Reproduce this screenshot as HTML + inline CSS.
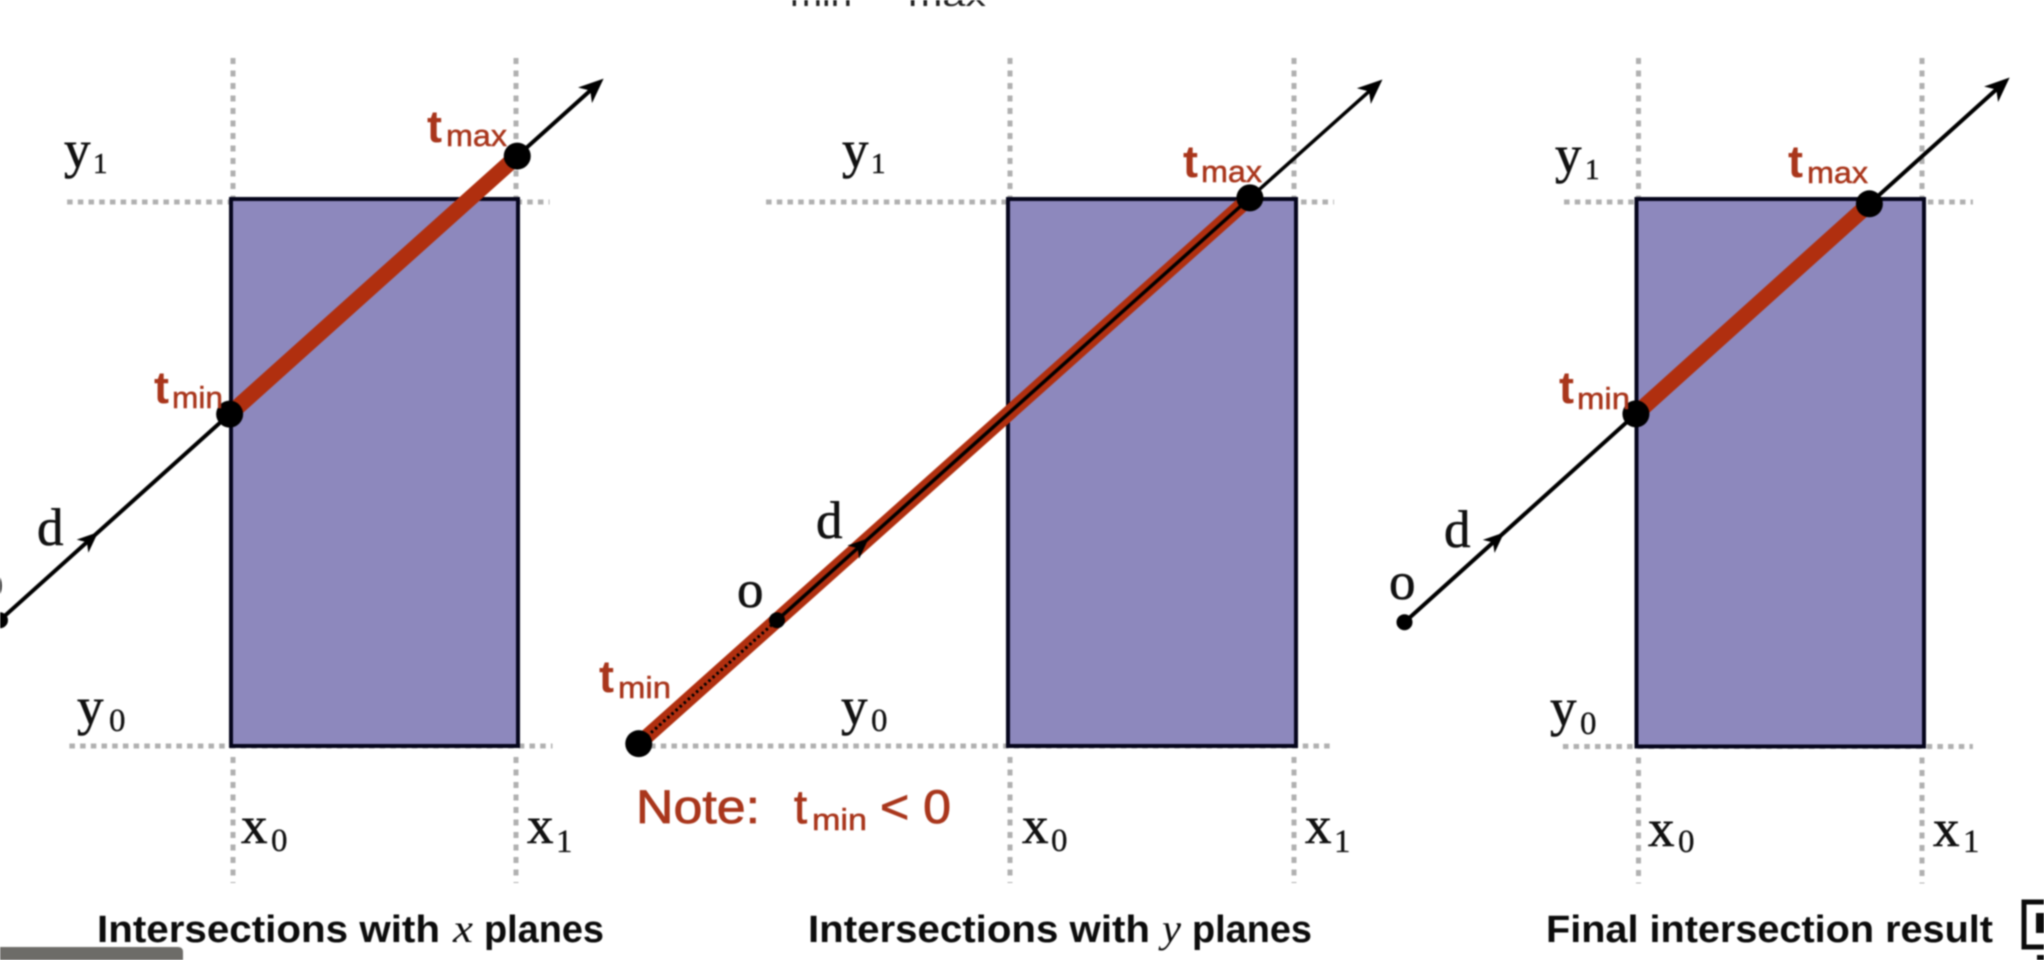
<!DOCTYPE html>
<html lang="en">
<head>
<meta charset="utf-8">
<title>Ray and box intersection</title>
<style>
  html, body { margin: 0; padding: 0; background: #fff; }
  body { width: 2044px; height: 960px; overflow: hidden; }
  svg { display: block; filter: blur(0.8px); }
  .serif { font-family: "Liberation Serif", serif; font-size: 53px; fill: #111; stroke: #111; stroke-width: 0.6px; }
  .serif-sub { font-family: "Liberation Serif", serif; font-size: 33px; fill: #111; stroke: #111; stroke-width: 0.3px; }
  .serif-sub-small { font-family: "Liberation Serif", serif; font-size: 29px; fill: #111; stroke: #111; stroke-width: 0.5px; }
  .red-t { font-family: "Liberation Sans", sans-serif; font-size: 45px; font-weight: 700; fill: #a9361c; }
  .red-sub { font-family: "Liberation Sans", sans-serif; font-size: 31px; fill: #a9361c; stroke: #a9361c; stroke-width: 0.5px; }
  .note { font-family: "Liberation Sans", sans-serif; font-size: 47px; fill: #a9361c; stroke: #a9361c; stroke-width: 0.8px; }
  .title { font-family: "Liberation Sans", sans-serif; font-size: 38px; font-weight: 700; fill: #0c0c0c; }
  .title-var { font-family: "Liberation Serif", serif; font-size: 40px; font-style: italic; fill: #0c0c0c; }
  .clipped { font-family: "Liberation Sans", sans-serif; font-size: 44px; fill: #333; }
  .clipped-sub { font-family: "Liberation Sans", sans-serif; font-size: 30px; fill: #222; }
</style>
</head>
<body>
<svg id="diagram" xmlns="http://www.w3.org/2000/svg" width="2044" height="960" viewBox="0 0 2044 960">
  <rect x="0" y="0" width="2044" height="960" fill="#ffffff"/>
  <g id="marks"></g>

  <g>
    <text class="clipped" x="76" y="-1" textLength="690" lengthAdjust="spacingAndGlyphs" opacity="0.5">and take intersection of</text>
    <text class="clipped-sub" x="790" y="6" textLength="62" lengthAdjust="spacingAndGlyphs">min</text>
    <text class="clipped-sub" x="908" y="6" textLength="78" lengthAdjust="spacingAndGlyphs">max</text>
    <text class="clipped" x="1010" y="-1" textLength="230" lengthAdjust="spacingAndGlyphs" opacity="0.5">intervals</text>
  </g>

  <!-- Panel 1 labels -->
  <g>
    <g><text class="serif" x="64" y="167">y</text><text class="serif-sub-small" x="93" y="173">1</text></g>
    <g><text class="serif" x="77" y="724">y</text><text class="serif-sub" x="109" y="731">0</text></g>
    <g><text class="serif" x="241" y="843">x</text><text class="serif-sub" x="271" y="851">0</text></g>
    <g><text class="serif" x="527" y="843">x</text><text class="serif-sub" x="556" y="852">1</text></g>
    <text class="serif" x="37" y="545">d</text>
    <text class="serif" x="-23" y="598">o</text>
    <g><text class="red-t" x="427" y="142">t</text><text class="red-sub" x="446" y="146" textLength="61" lengthAdjust="spacingAndGlyphs">max</text></g>
    <g><text class="red-t" x="154" y="403">t</text><text class="red-sub" x="172" y="408" textLength="51" lengthAdjust="spacingAndGlyphs">min</text></g>
    <g>
      <text class="title" x="97" y="942" textLength="343" lengthAdjust="spacingAndGlyphs">Intersections with</text>
      <text class="title-var" x="453" y="942" textLength="20" lengthAdjust="spacingAndGlyphs">x</text>
      <text class="title" x="484" y="942" textLength="120" lengthAdjust="spacingAndGlyphs">planes</text>
    </g>
  </g>

  <!-- Panel 2 labels -->
  <g>
    <g><text class="serif" x="842" y="167">y</text><text class="serif-sub-small" x="871" y="173">1</text></g>
    <g><text class="serif" x="841" y="724">y</text><text class="serif-sub" x="871" y="731">0</text></g>
    <g><text class="serif" x="1022" y="843">x</text><text class="serif-sub" x="1051" y="851">0</text></g>
    <g><text class="serif" x="1305" y="843">x</text><text class="serif-sub" x="1334" y="852">1</text></g>
    <text class="serif" x="816" y="538">d</text>
    <text class="serif" x="737" y="607">o</text>
    <g><text class="red-t" x="1183" y="177">t</text><text class="red-sub" x="1201" y="182" textLength="61" lengthAdjust="spacingAndGlyphs">max</text></g>
    <g><text class="red-t" x="599" y="692">t</text><text class="red-sub" x="618" y="698" textLength="53" lengthAdjust="spacingAndGlyphs">min</text></g>
    <g>
      <text class="note" x="636" y="823" textLength="124" lengthAdjust="spacingAndGlyphs">Note:</text>
      <text class="note" x="794" y="823">t</text>
      <text class="red-sub" x="812" y="830" textLength="55" lengthAdjust="spacingAndGlyphs">min</text>
      <text class="note" x="880" y="823" textLength="71" lengthAdjust="spacingAndGlyphs">&lt; 0</text>
    </g>
    <g>
      <text class="title" x="808" y="942" textLength="342" lengthAdjust="spacingAndGlyphs">Intersections with</text>
      <text class="title-var" x="1162" y="942" textLength="19" lengthAdjust="spacingAndGlyphs">y</text>
      <text class="title" x="1192" y="942" textLength="120" lengthAdjust="spacingAndGlyphs">planes</text>
    </g>
  </g>

  <!-- Panel 3 labels -->
  <g>
    <g><text class="serif" x="1555" y="172">y</text><text class="serif-sub-small" x="1585" y="179">1</text></g>
    <g><text class="serif" x="1550" y="725">y</text><text class="serif-sub" x="1580" y="734">0</text></g>
    <g><text class="serif" x="1648" y="846">x</text><text class="serif-sub" x="1678" y="852">0</text></g>
    <g><text class="serif" x="1933" y="846">x</text><text class="serif-sub" x="1963" y="852">1</text></g>
    <text class="serif" x="1444" y="547">d</text>
    <text class="serif" x="1389" y="599">o</text>
    <g><text class="red-t" x="1788" y="177">t</text><text class="red-sub" x="1807" y="183" textLength="61" lengthAdjust="spacingAndGlyphs">max</text></g>
    <g><text class="red-t" x="1559" y="403">t</text><text class="red-sub" x="1577" y="409" textLength="53" lengthAdjust="spacingAndGlyphs">min</text></g>
    <text class="title" x="1546" y="942" textLength="447" lengthAdjust="spacingAndGlyphs">Final intersection result</text>
  </g>

  <g>
    <path d="M0 947 H178 Q183 947 183 952 V960 H0 Z" fill="#6d6c68"/>
    <rect x="2024" y="902" width="30" height="45" fill="#fff" stroke="#0b0b0b" stroke-width="5"/>
    <rect x="2036" y="913" width="10" height="20" fill="#0b0b0b"/>
    <rect x="2037" y="955" width="8" height="5" fill="#0b0b0b"/>
  </g>
</svg>

<script>
// Box scale per panel, in pixels
const panelNames = ['x-planes', 'y-planes', 'final-result'];
const boxLeft = [231, 1008, 1636.5];
const boxWidth = [287, 288, 287.5];
const boxBottom = [746, 746, 746.5];
const boxHeight = [547, 547, 547.5];

// Ray parameters in box units: box spans 0..1 in both directions
const rayOriginX = [-0.805, -0.802, -0.807];
const rayOriginY = [0.23, 0.23, 0.227];
const rayDirX = [0.342, 0.319, 0.347];
const rayDirY = [0.161, 0.15, 0.164];
const tMin = [2.34, -1.505, 2.32];
const tMax = [5.27, 5.147, 4.66];
const tEnd = [6.15, 6.59, 6.066];
const redWidth = [16, 15, 16];

// Extent of the dotted planes in box units
const topGuideStart = [-0.571, -0.84, -0.252];
const topGuideEnd = [1.11, 1.132, 1.17];
const bottomGuideStart = [-0.563, -1.28, -0.256];
const bottomGuideEnd = [1.12, 1.125, 1.17];

const NS = 'http://www.w3.org/2000/svg';
const marks = document.getElementById('marks');

function xScale(p, u) { return boxLeft[p] + u * boxWidth[p]; }
function yScale(p, v) { return boxBottom[p] - v * boxHeight[p]; }
function rayX(p, t) { return xScale(p, rayOriginX[p] + t * rayDirX[p]); }
function rayY(p, t) { return yScale(p, rayOriginY[p] + t * rayDirY[p]); }

function makeLine(parent, x1, y1, x2, y2, color, width, dash) {
  const l = document.createElementNS(NS, 'line');
  l.setAttribute('x1', x1);
  l.setAttribute('y1', y1);
  l.setAttribute('x2', x2);
  l.setAttribute('y2', y2);
  l.setAttribute('stroke', color);
  l.setAttribute('stroke-width', width);
  if (dash) l.setAttribute('stroke-dasharray', dash);
  parent.appendChild(l);
  return l;
}
function makeDot(parent, cx, cy, r) {
  const c = document.createElementNS(NS, 'circle');
  c.setAttribute('cx', cx);
  c.setAttribute('cy', cy);
  c.setAttribute('r', r);
  c.setAttribute('fill', '#000');
  parent.appendChild(c);
  return c;
}
function makeArrow(parent, tipX, tipY, angle, size) {
  const a = document.createElementNS(NS, 'polygon');
  const w = size * 0.42;
  a.setAttribute('points', '0,0 ' + (-size) + ',' + (-w) + ' ' + (-size * 0.72) + ',0 ' + (-size) + ',' + w);
  a.setAttribute('transform', 'translate(' + tipX + ' ' + tipY + ') rotate(' + angle + ')');
  a.setAttribute('fill', '#000');
  parent.appendChild(a);
  return a;
}

panelNames.forEach(function (name, p) {
  const g = document.createElementNS(NS, 'g');
  
  
  marks.appendChild(g);

  const guide = '#b0b0b0';
  const dashH = '5.5 5.2';
  const dashV = '6 6.5';
  const left = xScale(p, 0);
  const right = xScale(p, 1);
  const top = yScale(p, 1);
  const bottom = yScale(p, 0);

  const gTop = makeLine(g, xScale(p, topGuideStart[p]), top + 3, xScale(p, topGuideEnd[p]), top + 3, guide, 5, dashH);
  
  
  const gBottom = makeLine(g, xScale(p, bottomGuideStart[p]), bottom, xScale(p, bottomGuideEnd[p]), bottom, guide, 5, dashH);
  
  
  const gX0a = makeLine(g, left + 2, top - 141, left + 2, top, guide, 5, dashV);
  
  
  const gX0b = makeLine(g, left + 2, bottom + 11, left + 2, bottom + 137, guide, 5, dashV);
  
  
  const gX1a = makeLine(g, right - 2, top - 141, right - 2, top, guide, 5, dashV);
  
  
  const gX1b = makeLine(g, right - 2, bottom + 11, right - 2, bottom + 137, guide, 5, dashV);
  
  

  const box = document.createElementNS(NS, 'rect');
  box.setAttribute('x', left);
  box.setAttribute('y', top);
  box.setAttribute('width', right - left);
  box.setAttribute('height', bottom - top);
  box.setAttribute('fill', '#8d88bd');
  box.setAttribute('stroke', '#05051c');
  box.setAttribute('stroke-width', '4');
  
  
  g.appendChild(box);

  const ang = Math.atan2(rayY(p, 1) - rayY(p, 0), rayX(p, 1) - rayX(p, 0)) * 180 / Math.PI;
  const negative = tMin[p] < 0;

  if (!negative) {
    const ray = makeLine(g, rayX(p, 0), rayY(p, 0), rayX(p, tEnd[p] - 0.1), rayY(p, tEnd[p] - 0.1), '#000', 4);
    
    
  }

  const seg = makeLine(g, rayX(p, tMin[p]), rayY(p, tMin[p]), rayX(p, tMax[p]), rayY(p, tMax[p]), '#b02f0f', redWidth[p]);
  
  

  if (negative) {
    const ray2 = makeLine(g, rayX(p, 0), rayY(p, 0), rayX(p, tEnd[p] - 0.1), rayY(p, tEnd[p] - 0.1), '#000', 3.5);
    
    
    const back = makeLine(g, rayX(p, tMin[p]), rayY(p, tMin[p]), rayX(p, 0), rayY(p, 0), '#000', 3, '2.5 3');
    
    
  }

  const endArrow = makeArrow(g, rayX(p, tEnd[p]), rayY(p, tEnd[p]), ang, 25);
  
  
  const dArrow = makeArrow(g, rayX(p, 1), rayY(p, 1), ang, 21);
  
  

  const originDot = makeDot(g, rayX(p, 0), rayY(p, 0), 8);
  
  
  const minDot = makeDot(g, rayX(p, tMin[p]), rayY(p, tMin[p]), 13.5);
  
  
  const maxDot = makeDot(g, rayX(p, tMax[p]), rayY(p, tMax[p]), 13.5);
  
  
});
</script>
</body>
</html>
